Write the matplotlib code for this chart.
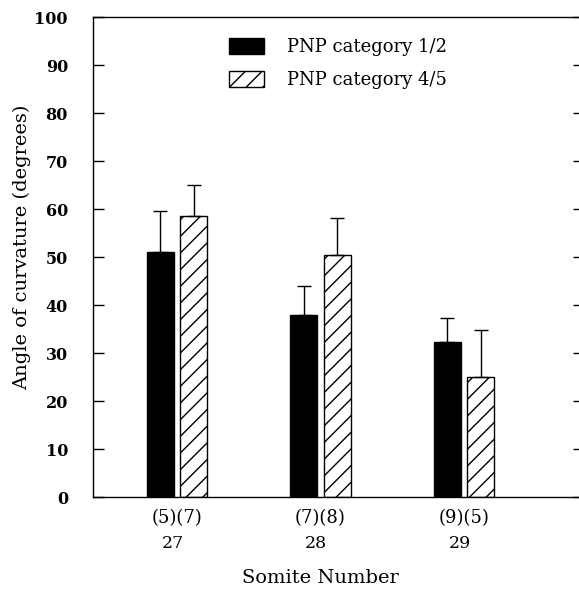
import numpy as np
import matplotlib
matplotlib.use("Agg")
import matplotlib.pyplot as plt
from matplotlib.transforms import blended_transform_factory

# ---- Data ----
somites = ["27", "28", "29"]
n_cat12 = [5, 7, 9]
n_cat45 = [7, 8, 5]
mean_cat12 = [51.0, 38.0, 32.3]
err_cat12 = [8.5, 6.0, 5.0]
mean_cat45 = [58.5, 50.5, 25.0]
err_cat45 = [6.5, 7.7, 9.8]

plt.rcParams['font.family'] = 'DejaVu Serif'
plt.rcParams['hatch.linewidth'] = 1.0

W, H = 579, 589
fig = plt.figure(figsize=(W / 100, H / 100), dpi=100)
# right spine sits just past the picture edge, as in the scan
ax = fig.add_axes([93/W, 1 - 497/H, (584-93)/W, (497-17)/H])

x = np.arange(len(somites))
w = 0.19
off = 0.116

ax.bar(x - off, mean_cat12, w, color='black', edgecolor='black',
       label="PNP category 1/2")
ax.bar(x + off, mean_cat45, w, color='white', edgecolor='black',
       hatch='//', linewidth=1.0, label="PNP category 4/5")
ax.errorbar(x - off, mean_cat12, yerr=[np.zeros(3), err_cat12], fmt='none',
            ecolor='black', elinewidth=1.0, capsize=5, capthick=1.0)
ax.errorbar(x + off, mean_cat45, yerr=[np.zeros(3), err_cat45], fmt='none',
            ecolor='black', elinewidth=1.0, capsize=5, capthick=1.0)

# x limits chosen so group centres land where they are in the original
px = 143.5
ax.set_xlim(-(177 - 93) / px, (584 - 177) / px)
ax.set_ylim(0, 100)
ax.set_yticks(np.arange(0, 101, 10))
ax.tick_params(axis='y', direction='in', length=8, width=1.0,
               right=True, labelsize=11.5, pad=18)
for lab in ax.get_yticklabels():
    lab.set_fontweight('semibold')

# group counts and somite numbers below the axis
ax.set_xticks([])
tr = blended_transform_factory(ax.transData, ax.transAxes)
for xi, a, b, s in zip(x, n_cat12, n_cat45, somites):
    ax.text(xi, -21/480, f"({a})({b})", transform=tr, ha='center',
            va='center', fontsize=13)
    ax.text(xi - 0.03, -46/480, s, transform=tr, ha='center', va='center',
            fontsize=12.5)

for sp in ax.spines.values():
    sp.set_linewidth(1.0)

fig.text(22/W, 1 - 247/H, "Angle of curvature (degrees)", rotation=90,
         ha='center', va='center', fontsize=14)
fig.text(320/W, 1 - 578/H, "Somite Number", ha='center', va='center',
         fontsize=14)

ax.legend(loc='upper left', bbox_to_anchor=(0.243, 0.99), frameon=False,
          fontsize=13, handlelength=1.95, handleheight=0.95,
          handletextpad=1.3, labelspacing=0.85)

fig.savefig("out.png", dpi=100)
